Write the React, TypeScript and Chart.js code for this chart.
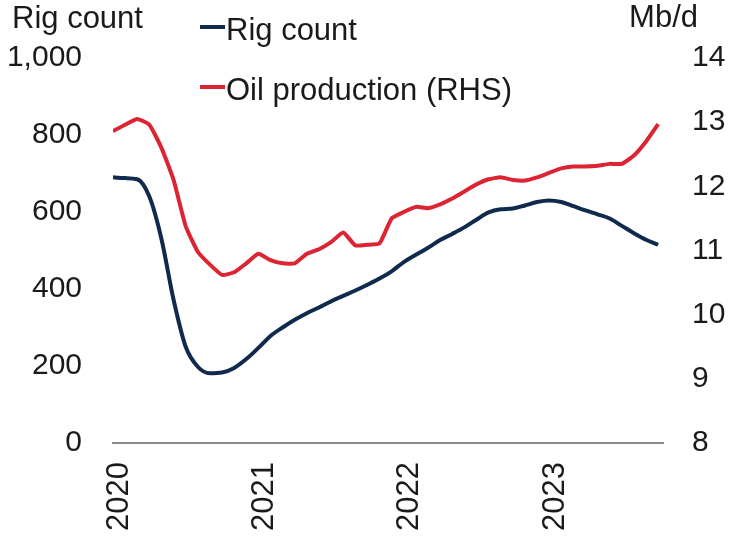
import React, { useEffect, useRef } from 'react';
import { Chart, registerables } from 'chart.js';

Chart.register(...registerables);

// Monthly, Jan 2020 .. Oct 2023
const yearLabels = ['2020', '2021', '2022', '2023'];

const rigCount = [
  690, 688, 685, 640, 530, 372, 250, 198, 181, 183, 195, 218,
  247, 278, 300, 320, 337, 352, 368, 382, 396, 411, 427, 446,
  470, 489, 507, 527, 543, 560, 580, 599, 607, 609, 617, 626,
  630, 626, 615, 604, 594, 583, 564, 545, 528, 515,
];

const oilProduction = [
  12.86, 12.96, 13.05, 12.96, 12.6, 12.1, 11.38, 10.98, 10.78, 10.62, 10.66, 10.8,
  10.95, 10.85, 10.8, 10.8, 10.95, 11.02, 11.13, 11.28, 11.08, 11.09, 11.11, 11.5,
  11.6, 11.68, 11.66, 11.72, 11.81, 11.92, 12.03, 12.11, 12.14, 12.1, 12.09, 12.14,
  12.21, 12.28, 12.31, 12.31, 12.32, 12.35, 12.35, 12.48, 12.7, 12.97,
];

const leftTitle = 'Rig count';
const rightTitle = 'Mb/d';
const seriesNames = ['Rig count', 'Oil production (RHS)'];
const seriesColors = ['#0f2a4d', '#dc2433'];

const FONT = '"Liberation Sans", Arial, Helvetica, sans-serif';
const FS_TICK = 30;
const FS_X = 31;
const FS_TEXT = 31;
const TEXT = '#1a1a1a';

const overlayPlugin = {
  id: 'overlayText',
  afterDraw(chart: any) {
    const ctx = chart.ctx;
    ctx.save();
    ctx.font = `${FS_TEXT}px ${FONT}`;
    ctx.fillStyle = TEXT;
    ctx.textBaseline = 'alphabetic';
    // axis titles
    ctx.textAlign = 'left';
    ctx.fillText(leftTitle, 12, 28);
    ctx.textAlign = 'right';
    ctx.fillText(rightTitle, 698, 27);
    // legend
    const ys = [40, 100];
    chart.data.datasets.forEach((ds: any, i: number) => {
      const base = ys[i];
      ctx.strokeStyle = ds.borderColor;
      ctx.lineWidth = 4;
      ctx.beginPath();
      ctx.moveTo(200, base - 13);
      ctx.lineTo(225, base - 13);
      ctx.stroke();
      ctx.textAlign = 'left';
      ctx.fillStyle = TEXT;
      ctx.fillText(ds.label, 226, base);
    });
    ctx.restore();
  },
};

export default function App() {
  const ref = useRef<HTMLCanvasElement>(null);

  useEffect(() => {
    if (!ref.current) return;
    const chart = new Chart(ref.current, {
      type: 'line',
      data: {
        datasets: [
          {
            label: seriesNames[0],
            data: rigCount.map((v, i) => ({ x: i, y: v })),
            borderColor: seriesColors[0],
            backgroundColor: seriesColors[0],
            borderWidth: 4,
            pointRadius: 0,
            cubicInterpolationMode: 'monotone',
            yAxisID: 'y',
          },
          {
            label: seriesNames[1],
            data: oilProduction.map((v, i) => ({ x: i, y: v })),
            borderColor: seriesColors[1],
            backgroundColor: seriesColors[1],
            borderWidth: 4,
            pointRadius: 0,
            tension: 0.15,
            yAxisID: 'y1',
          },
        ],
      },
      options: {
        responsive: false,
        animation: false,
        layout: { padding: { top: 58, left: 0, right: 0, bottom: 0 } },
        plugins: {
          legend: { display: false },
          tooltip: { enabled: false },
        },
        scales: {
          x: {
            type: 'linear',
            min: 0,
            max: 45.4,
            afterBuildTicks: (s: any) => {
              s.ticks = yearLabels.map((_, k) => ({ value: k * 12 + 0.5 }));
            },
            afterFit: (s: any) => {
              s.height = 111;
            },
            ticks: {
              autoSkip: false,
              minRotation: 90,
              maxRotation: 90,
              padding: 19,
              color: TEXT,
              font: { family: FONT, size: FS_X },
              callback: (_v: any, i: number) => yearLabels[i],
            },
            grid: { display: true, color: 'rgba(0,0,0,0)', drawTicks: false },
            border: { display: true, color: '#8a8a8a', width: 2 },
          },
          y: {
            position: 'left',
            min: 0,
            max: 1000,
            afterFit: (s: any) => {
              s.width = 113;
            },
            ticks: {
              stepSize: 200,
              padding: 31,
              color: TEXT,
              font: { family: FONT, size: FS_TICK },
              callback: (v: any) => Number(v).toLocaleString('en-US'),
            },
            grid: { display: false, drawTicks: false },
            border: { display: false },
          },
          y1: {
            position: 'right',
            min: 8,
            max: 14,
            afterFit: (s: any) => {
              s.width = 72;
            },
            ticks: {
              stepSize: 1,
              padding: 29,
              color: TEXT,
              font: { family: FONT, size: FS_TICK },
            },
            grid: { display: false, drawTicks: false },
            border: { display: false },
          },
        },
      } as any,
      plugins: [overlayPlugin],
    });
    return () => chart.destroy();
  }, []);

  return (
    <div style={{ position: 'fixed', left: 0, top: 0, width: 735, height: 554, background: '#fff' }}>
      <canvas ref={ref} width={735} height={554} />
    </div>
  );
}
